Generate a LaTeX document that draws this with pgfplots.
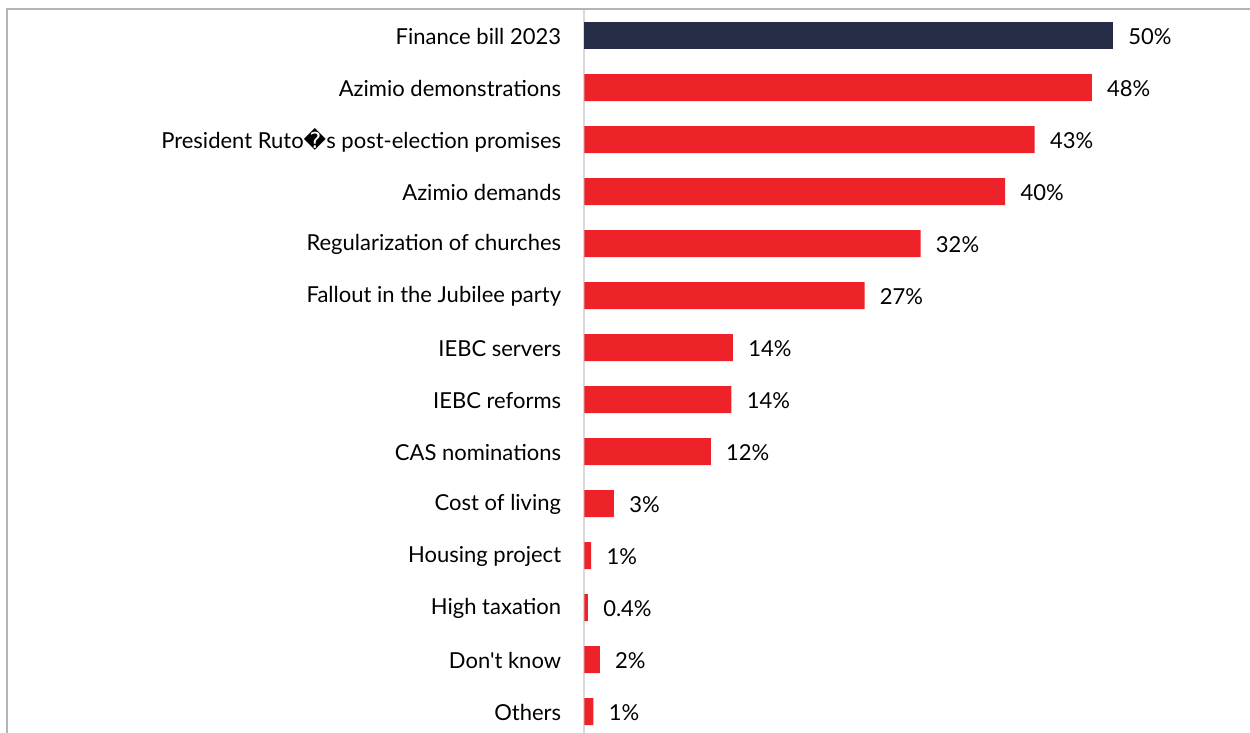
\documentclass[border=0pt]{standalone}
\usepackage{pgfplots}
\pgfplotsset{compat=1.18}
\usepackage{pgfplotstable}
\usepackage{fontspec}
\setmainfont{Lato}[Ligatures=TeXOff]
\newfontfamily\dejavu{DejaVu Sans}
\definecolor{barred}{HTML}{EE2229}
\definecolor{barnavy}{HTML}{262B46}
\definecolor{framegray}{HTML}{B4B4B4}
\definecolor{axisgray}{HTML}{D9D9D9}

\pgfplotstableread[col sep=comma]{
y,x,lab
0,50.0,50\%
}\tablefirst
\pgfplotstableread[col sep=comma]{
y,x,lab
1,48.0,48\%
2,42.6,43\%
3,39.8,40\%
4,31.8,32\%
5,26.5,27\%
6,14.05,14\%
7,13.9,14\%
8,11.95,12\%
9,2.78,3\%
10,0.63,1\%
11,0.32,0.4\%
12,1.45,2\%
13,0.85,1\%
}\tablerest

\begin{document}
\begin{tikzpicture}
\useasboundingbox (0pt,0pt) rectangle (625pt,-366.5pt);
\draw[framegray, line width=1pt] (3.5pt,-366.5pt) -- (3.5pt,-4.75pt) -- (625pt,-4.75pt);
\begin{axis}[
  at={(292.25pt,-4.75pt)}, anchor=north west,
  scale only axis,
  width=332.75pt, height=361.75pt,
  xmin=0, xmax=62.97,
  ymin=-0.5, ymax=13.41,
  y dir=reverse,
  xbar, bar width=13.5pt, bar shift=0pt,
  axis lines*=left,
  x axis line style={draw=none},
  y axis line style={draw=axisgray, line width=1pt, -},
  xtick=\empty,
  ytick={0,...,13},
  major tick length=0pt,
  yticklabels={Finance bill 2023,Azimio demonstrations,{President Ruto{\dejavu\symbol{"FFFD}}s post-election promises},Azimio demands,Regularization of churches,Fallout in the Jubilee party,IEBC servers,IEBC reforms,CAS nominations,Cost of living,Housing project,High taxation,{Don't know},Others},
  yticklabel style={anchor=east, inner sep=0pt, xshift=-11.5pt, yshift=-0.5pt, font=\fontsize{11}{13}\selectfont},
  nodes near coords,
  point meta=explicit symbolic,
  nodes near coords style={anchor=west, inner sep=0pt, xshift=7.5pt, yshift=-0.5pt, font=\fontsize{11}{13}\selectfont, text=black},
  clip=false,
]
\addplot[fill=barnavy, draw=none] table[x=x, y=y, meta=lab] {\tablefirst};
\addplot[fill=barred, draw=none] table[x=x, y=y, meta=lab] {\tablerest};
\end{axis}
\end{tikzpicture}
\end{document}
